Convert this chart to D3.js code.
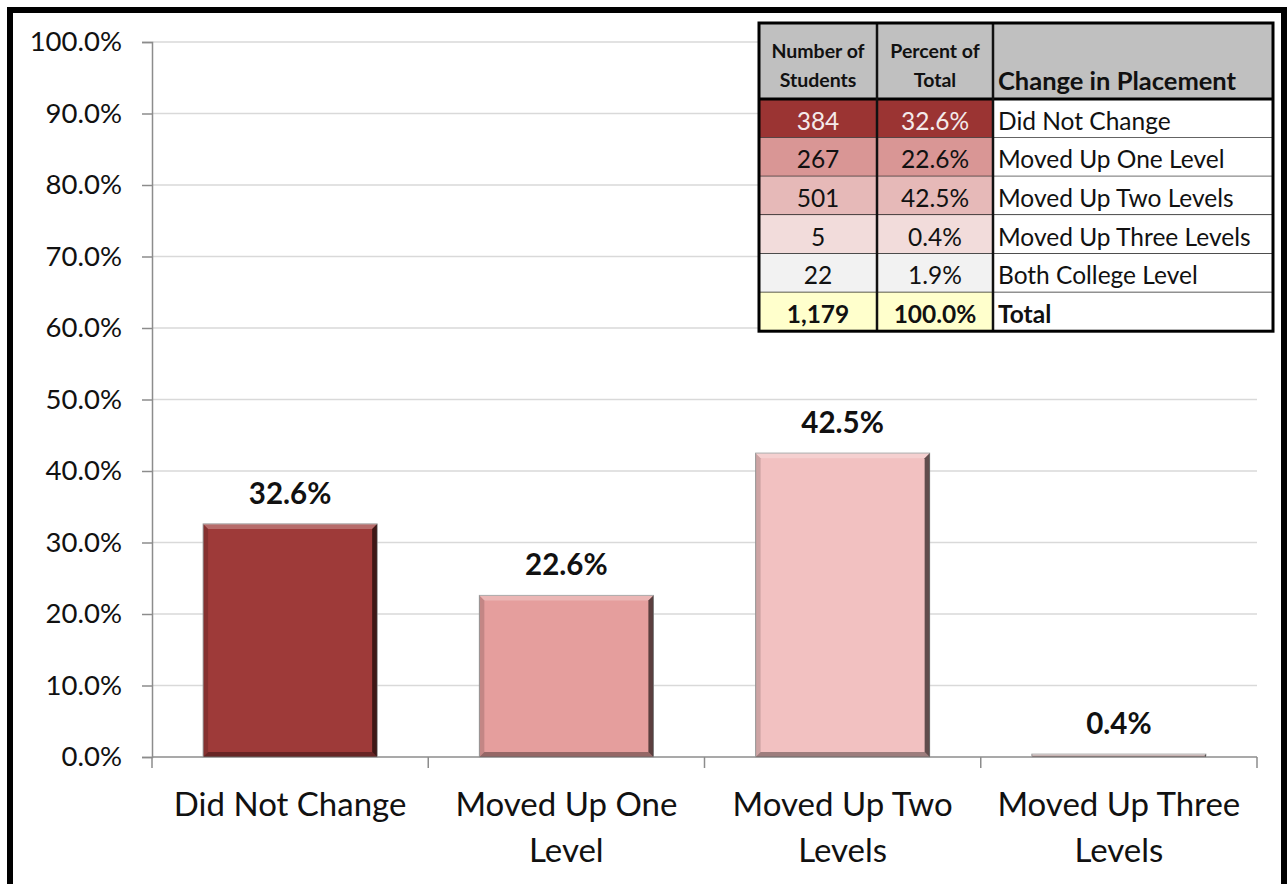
<!DOCTYPE html>
<html>
<head>
<meta charset="utf-8">
<script src="https://cdn.jsdelivr.net/npm/d3@7"></script>
<style>
  body { margin: 0; background: #fff; }
  text { font-family: Lato, "Open Sans", sans-serif; }
</style>
</head>
<body>
<script>
// chart data
var categories = [["Did Not Change"], ["Moved Up One", "Level"], ["Moved Up Two", "Levels"], ["Moved Up Three", "Levels"]];
var percents = [0.326, 0.226, 0.425, 0.004];
var barColors = ["#9e3a39", "#e59e9d", "#f2c1c1", "#f2d6d5"];
var yTicks = [0, 0.1, 0.2, 0.3, 0.4, 0.5, 0.6, 0.7, 0.8, 0.9, 1.0];

// table data
var tableHeader = [["Number of", "Students"], ["Percent of", "Total"], ["Change in Placement"]];
var tableCounts = ["384", "267", "501", "5", "22", "1,179"];
var tablePercents = ["32.6%", "22.6%", "42.5%", "0.4%", "1.9%", "100.0%"];
var tableLabels = ["Did Not Change", "Moved Up One Level", "Moved Up Two Levels", "Moved Up Three Levels", "Both College Level", "Total"];
var rowFills = ["#9b3433", "#d99695", "#e6b9b8", "#f2dcdb", "#f2f2f2", "#ffffcc"];

var W = 1287, H = 884;
var margin = {top: 42, right: 30, bottom: 127, left: 152};

var svg = d3.select("body").append("svg")
    .attr("width", W)
    .attr("height", H);

// outer frame
svg.append("rect")
    .attr("x", 10).attr("y", 10)
    .attr("width", 1274).attr("height", 900)
    .attr("fill", "none")
    .attr("stroke", "#000")
    .attr("stroke-width", 6);

var x = d3.scaleBand()
    .domain(d3.range(categories.length))
    .range([margin.left, W - margin.right])
    .paddingInner(0.37)
    .paddingOuter(0.185);

var y = d3.scaleLinear()
    .domain([0, 1])
    .range([H - margin.bottom, margin.top]);

// gridlines
svg.append("g")
    .selectAll("line")
    .data(yTicks.slice(1))
    .enter().append("line")
    .attr("x1", margin.left).attr("x2", W - margin.right)
    .attr("y1", function(d) { return y(d); })
    .attr("y2", function(d) { return y(d); })
    .attr("stroke", "#d9d9d9")
    .attr("stroke-width", 1.5);

// y axis
var yAxis = svg.append("g")
    .attr("transform", "translate(" + margin.left + ",0)")
    .call(d3.axisLeft(y).tickValues(yTicks).tickFormat(d3.format(".1%")).tickSize(10).tickPadding(20));
yAxis.selectAll("path, line").attr("stroke", "#8c8c8c").attr("stroke-width", 1.5);
yAxis.selectAll("text")
    .attr("font-size", 27.5)
    .attr("fill", "#111")
    .style("font-family", "Lato, sans-serif");

// x axis baseline and category ticks
var step = x.step();
var xg = svg.append("g");
xg.append("line")
    .attr("x1", margin.left).attr("x2", W - margin.right)
    .attr("y1", y(0)).attr("y2", y(0))
    .attr("stroke", "#8c8c8c").attr("stroke-width", 1.5);
xg.selectAll("line.tick")
    .data(d3.range(categories.length + 1))
    .enter().append("line")
    .attr("class", "tick")
    .attr("x1", function(i) { return margin.left + i * step; })
    .attr("x2", function(i) { return margin.left + i * step; })
    .attr("y1", y(0)).attr("y2", y(0) + 11)
    .attr("stroke", "#8c8c8c").attr("stroke-width", 1.5);

// category labels
var labels = svg.append("g").selectAll("text")
    .data(categories)
    .enter().append("text")
    .attr("text-anchor", "middle")
    .attr("font-size", 33)
    .attr("fill", "#111");
labels.selectAll("tspan")
    .data(function(d, i) { return d.map(function(t) { return {t: t, i: i}; }); })
    .enter().append("tspan")
    .attr("x", function(d) { return x(d.i) + x.bandwidth() / 2; })
    .attr("y", function(d, j) { return 816 + j * 46; })
    .text(function(d) { return d.t; });

// bars with bevel edges
var bars = svg.append("g").selectAll("g")
    .data(percents)
    .enter().append("g");

bars.append("rect")
    .attr("x", function(d, i) { return x(i); })
    .attr("y", function(d) { return y(d); })
    .attr("width", x.bandwidth())
    .attr("height", function(d) { return y(0) - y(d); })
    .attr("fill", function(d, i) { return barColors[i]; })
    .attr("stroke", "#a0a0a0")
    .attr("stroke-width", 1);

var bev = 5;
function edge(d, i, side) {
    var x0 = x(i), x1 = x(i) + x.bandwidth(), y0 = y(d), y1 = y(0);
    var b = Math.min(bev, (y1 - y0) / 2);
    if (side === "top") return [[x0, y0], [x1, y0], [x1 - b, y0 + b], [x0 + b, y0 + b]];
    if (side === "right") return [[x1, y0], [x1, y1], [x1 - b, y1 - b], [x1 - b, y0 + b]];
    if (side === "bottom") return [[x0, y1], [x1, y1], [x1 - b, y1 - b], [x0 + b, y1 - b]];
    return [[x0, y0], [x0, y1], [x0 + b, y1 - b], [x0 + b, y0 + b]];
}
var edgeStyle = {
    top: ["#fff", 0.25],
    left: ["#000", 0.15],
    bottom: ["#000", 0.35],
    right: ["#000", 0.6]
};
["top", "left", "bottom", "right"].forEach(function(side) {
    bars.append("path")
        .attr("d", function(d, i) { return "M" + edge(d, i, side).join("L") + "Z"; })
        .attr("fill", edgeStyle[side][0])
        .attr("fill-opacity", edgeStyle[side][1]);
});

// value labels
bars.append("text")
    .attr("x", function(d, i) { return x(i) + x.bandwidth() / 2; })
    .attr("y", function(d) { return y(d) - 20; })
    .attr("text-anchor", "middle")
    .attr("font-size", 29.5)
    .attr("font-weight", "bold")
    .attr("fill", "#111")
    .text(function(d) { return d3.format(".1%")(d); });

// table
var colX = [759, 877, 993, 1273];
var headTop = 23, headBottom = 99, rowH = 38.7;
var table = svg.append("g");

table.append("rect")
    .attr("x", colX[0]).attr("y", headTop)
    .attr("width", colX[3] - colX[0]).attr("height", headBottom - headTop)
    .attr("fill", "#c0c0c0");

var rows = table.selectAll("g.row")
    .data(tableLabels)
    .enter().append("g")
    .attr("class", "row")
    .attr("transform", function(d, i) { return "translate(0," + (headBottom + i * rowH) + ")"; });

rows.append("rect")
    .attr("x", colX[0]).attr("width", colX[2] - colX[0]).attr("height", rowH)
    .attr("fill", function(d, i) { return rowFills[i]; });
rows.append("rect")
    .attr("x", colX[2]).attr("width", colX[3] - colX[2]).attr("height", rowH)
    .attr("fill", "#fff");
rows.append("line")
    .attr("x1", colX[0]).attr("x2", colX[3])
    .attr("y1", rowH).attr("y2", rowH)
    .attr("stroke", "#222").attr("stroke-width", 1.5);

var isTotal = function(i) { return i === tableLabels.length - 1; };
var cellSize = 24.5;
rows.append("text")
    .attr("x", (colX[0] + colX[1]) / 2).attr("y", rowH - 8)
    .attr("text-anchor", "middle")
    .attr("font-size", cellSize)
    .attr("font-weight", function(d, i) { return isTotal(i) ? "bold" : "normal"; })
    .attr("fill", function(d, i) { return i === 0 ? "#f4eaea" : "#111"; })
    .text(function(d, i) { return tableCounts[i]; });
rows.append("text")
    .attr("x", (colX[1] + colX[2]) / 2).attr("y", rowH - 8)
    .attr("text-anchor", "middle")
    .attr("font-size", cellSize)
    .attr("font-weight", function(d, i) { return isTotal(i) ? "bold" : "normal"; })
    .attr("fill", function(d, i) { return i === 0 ? "#f4eaea" : "#111"; })
    .text(function(d, i) { return tablePercents[i]; });
rows.append("text")
    .attr("x", colX[2] + 5).attr("y", rowH - 8)
    .attr("font-size", cellSize)
    .attr("font-weight", function(d, i) { return isTotal(i) ? "bold" : "normal"; })
    .attr("fill", "#111")
    .text(function(d) { return d; });

// header text
[0, 1].forEach(function(c) {
    table.append("text")
        .attr("x", (colX[c] + colX[c + 1]) / 2)
        .attr("text-anchor", "middle")
        .attr("font-size", 19.5)
        .attr("font-weight", "bold")
        .attr("fill", "#111")
        .selectAll("tspan")
        .data(tableHeader[c])
        .enter().append("tspan")
        .attr("x", (colX[c] + colX[c + 1]) / 2)
        .attr("y", function(d, j) { return 58 + j * 29; })
        .text(function(d) { return d; });
});
table.append("text")
    .attr("x", colX[2] + 5).attr("y", 90)
    .attr("font-size", 25.5)
    .attr("font-weight", "bold")
    .attr("fill", "#111")
    .text(tableHeader[2][0]);

// table grid lines
var tableBottom = headBottom + rowH * tableLabels.length;
table.append("line")
    .attr("x1", colX[0]).attr("x2", colX[3])
    .attr("y1", headBottom).attr("y2", headBottom)
    .attr("stroke", "#000").attr("stroke-width", 3);
[1, 2].forEach(function(c) {
    table.append("line")
        .attr("x1", colX[c]).attr("x2", colX[c])
        .attr("y1", headTop).attr("y2", tableBottom)
        .attr("stroke", "#111").attr("stroke-width", 2.5);
});
table.append("rect")
    .attr("x", colX[0]).attr("y", headTop)
    .attr("width", colX[3] - colX[0]).attr("height", tableBottom - headTop)
    .attr("fill", "none")
    .attr("stroke", "#000")
    .attr("stroke-width", 3);
</script>
</body>
</html>
